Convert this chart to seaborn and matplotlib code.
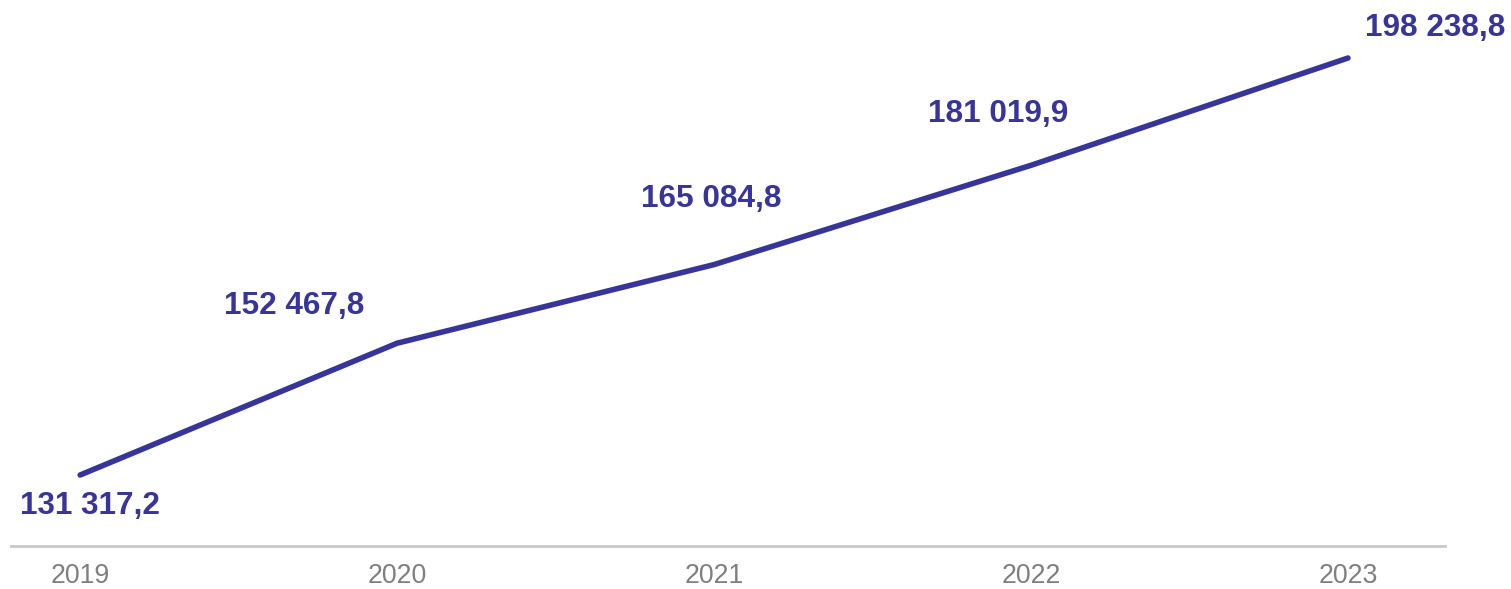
import matplotlib
matplotlib.use("Agg")
import matplotlib.pyplot as plt
import seaborn as sns
import pandas as pd

years = ["2019", "2020", "2021", "2022", "2023"]
values = [131317.2, 152467.8, 165084.8, 181019.9, 198238.8]

# label offsets in pixels (dx, dy with dy positive = up)
label_offsets = [(10, -31), (-103, 37), (-3, 66), (-33, 51), (87, 30)]

LINE_COLOR = "#38359a"

sns.set_theme(style="white")
plt.rcParams["font.family"] = ["Liberation Sans", "DejaVu Sans"]

df = pd.DataFrame({"year": years, "value": values})
df["x"] = range(len(years))

fig = plt.figure(figsize=(15.11, 5.89), dpi=100)
ax = fig.add_axes([0.0073, 0.073, 0.949, 0.927])

sns.lineplot(data=df, x="x", y="value", ax=ax, color=LINE_COLOR,
             linewidth=4.0, solid_capstyle="round", legend=False)

def fmt(v):
    s = f"{v:,.1f}"
    return s.replace(",", " ").replace(".", ",")

px = 72 / 100
for (xi, v), (dx, dy) in zip(zip(df["x"], df["value"]), label_offsets):
    ax.annotate(fmt(v), (xi, v), xytext=(dx * px, dy * px),
                textcoords="offset points", ha="center", va="center",
                fontsize=22.7, fontweight="bold", color=LINE_COLOR)

ax.set_xlim(-0.218, 4.306)
ax.set_ylim(119923, 207549)
ax.set_xticks(df["x"])
ax.set_xticklabels(years)
ax.set_yticks([])
ax.set_xlabel("")
ax.set_ylabel("")
for s in ["top", "right", "left"]:
    ax.spines[s].set_visible(False)
ax.spines["bottom"].set_color("#c8c8c8")
ax.spines["bottom"].set_linewidth(2)
ax.tick_params(axis="x", length=0, pad=12, labelsize=19.2, colors="#7f7f7f")
ax.patch.set_alpha(0)

fig.savefig("out.png", dpi=100)
